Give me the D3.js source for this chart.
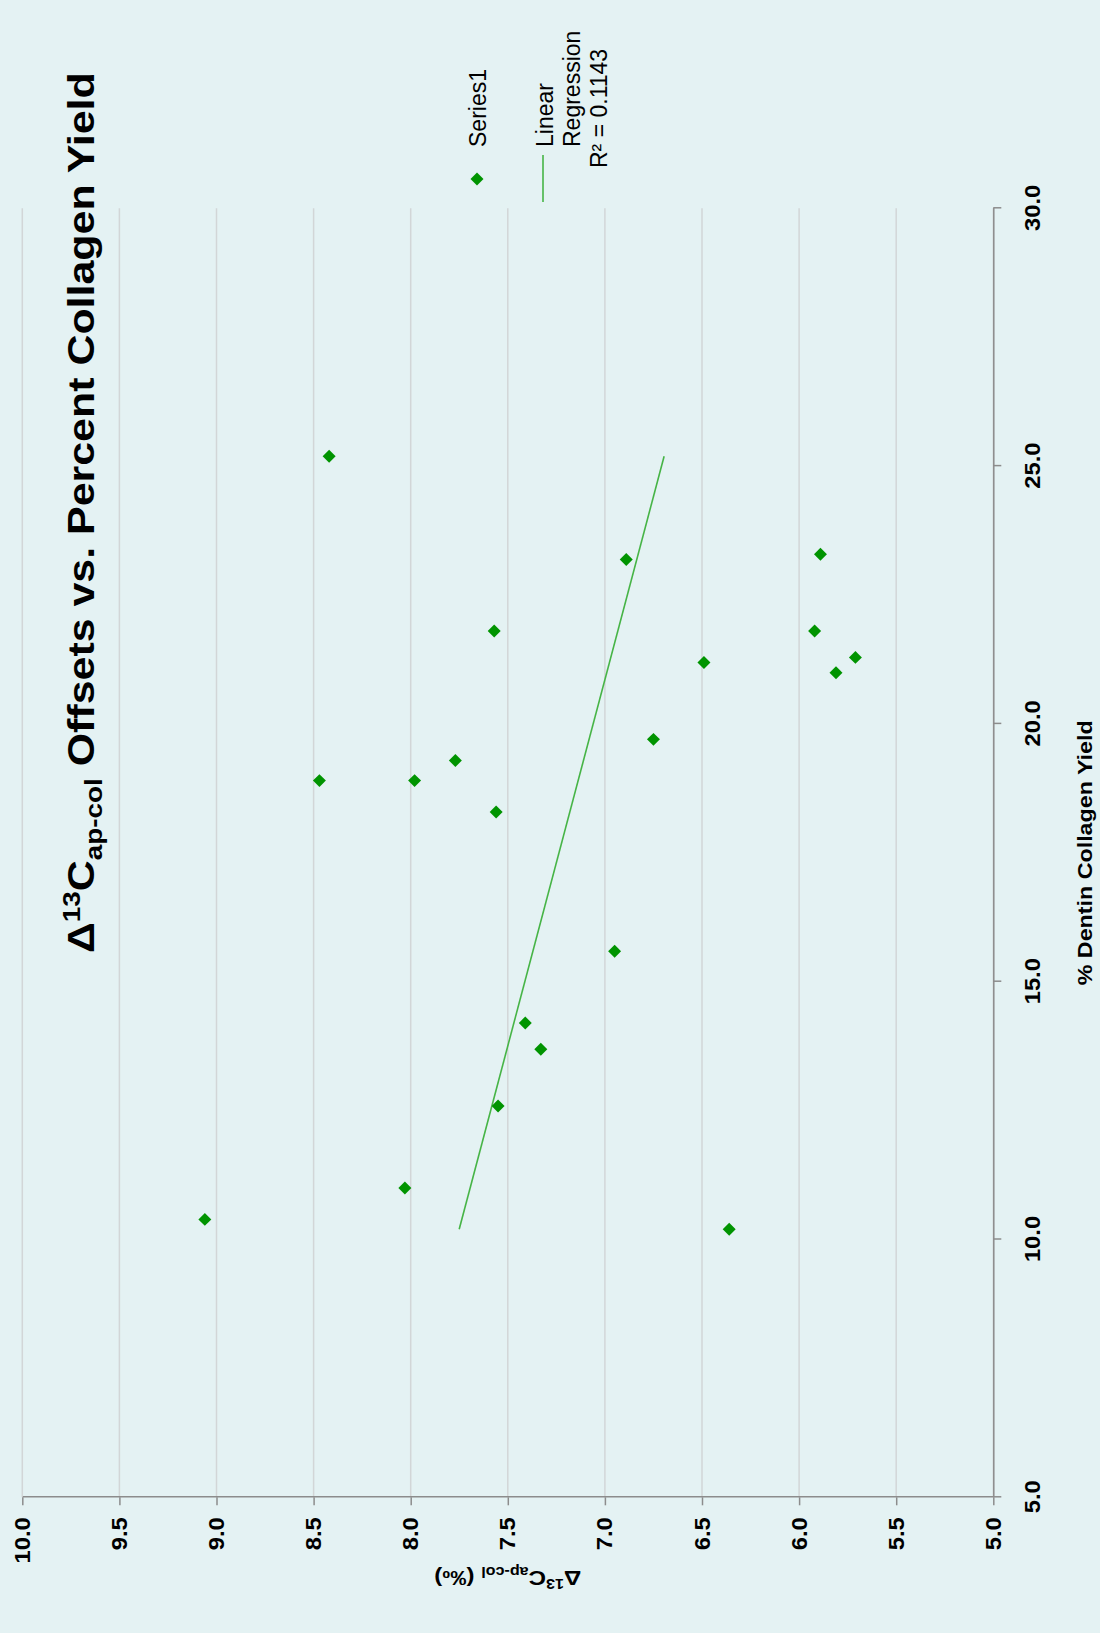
<!DOCTYPE html>
<html>
<head>
<meta charset="utf-8">
<script src="https://cdn.jsdelivr.net/npm/d3@7"></script>
<style>
  html, body { margin: 0; padding: 0; background: #e4f2f3; }
  svg { display: block; font-family: "Liberation Sans", Arial, Helvetica, sans-serif; }
</style>
</head>
<body>
<svg id="chart" width="1100" height="1633"></svg>
<script>
// % dentin collagen yield of each sample
const collagenYield = [25.19, 21.80, 19.29, 18.90, 18.90, 18.29, 23.19, 23.29, 21.80, 21.29,
                       20.99, 21.19, 19.70, 10.39, 11.00, 12.59, 14.20, 13.69, 15.59, 10.20];
// Δ13C apatite–collagen offset (‰) of the same samples
const offsets = [8.42, 7.57, 7.77, 8.47, 7.98, 7.56, 6.89, 5.89, 5.92, 5.71,
                 5.81, 6.49, 6.75, 9.06, 8.03, 7.55, 7.41, 7.33, 6.95, 6.36];
const xTicks = [5, 10, 15, 20, 25, 30];
const yTicks = [5, 5.5, 6, 6.5, 7, 7.5, 8, 8.5, 9, 9.5, 10];
const seriesName = "Series1";
const fitLabel = ["Linear", "Regression", "R² = 0.1143"];

const pts = collagenYield.map((x, i) => ({ x, y: offsets[i] }));

// least-squares fit of offset against yield
const mx = d3.mean(pts, d => d.x), my = d3.mean(pts, d => d.y);
const sxy = d3.sum(pts, d => (d.x - mx) * (d.y - my));
const sxx = d3.sum(pts, d => (d.x - mx) ** 2);
const slope = sxy / sxx, intercept = my - slope * mx;
const fitX = d3.extent(pts, d => d.x);

const PAGE_W = 1100, PAGE_H = 1633;
// The chart is laid out landscape (PAGE_H wide, PAGE_W tall) and turned a quarter turn.
const svg = d3.select("#chart");
svg.append("rect").attr("width", PAGE_W).attr("height", PAGE_H).attr("fill", "#e4f2f3");
const g = svg.append("g").attr("transform", `translate(0,${PAGE_H}) rotate(-90)`);

const plot = { left: 135.7, right: 1424.7, top: 22.3, bottom: 993.3 };
const x = d3.scaleLinear().domain([5, 30]).range([plot.left, plot.right]);
const y = d3.scaleLinear().domain([5, 10]).range([plot.bottom, plot.top]);

const AXIS = "#8c8c8c";

// horizontal gridlines
g.append("g").selectAll("line").data(yTicks).join("line")
  .attr("x1", plot.left).attr("x2", plot.right)
  .attr("y1", d => y(d)).attr("y2", d => y(d))
  .attr("stroke", "#d2d6d7").attr("stroke-width", 1.5);

function styleAxis(sel) {
  sel.attr("font-size", null).attr("font-family", null);
  sel.select(".domain").attr("stroke", AXIS).attr("stroke-width", 1.5);
  sel.selectAll(".tick line").attr("stroke", AXIS).attr("stroke-width", 1.5);
  sel.selectAll(".tick text").attr("fill", "#000").attr("font-size", 22).attr("font-weight", "bold");
}

const fmt = d3.format(".1f");
const gx = g.append("g").attr("transform", `translate(0,${plot.bottom})`)
  .call(d3.axisBottom(x).tickValues(xTicks).tickFormat(fmt).tickSize(8).tickSizeOuter(0).tickPadding(23))
  .call(styleAxis);
gx.selectAll(".tick text").attr("transform", "scale(1.08,1)");

const gy = g.append("g").attr("transform", `translate(${plot.left},0)`)
  .call(d3.axisLeft(y).tickValues(yTicks).tickFormat(fmt).tickSize(8).tickSizeOuter(0).tickPadding(12))
  .call(styleAxis);
gy.selectAll(".tick text").attr("transform", "translate(-20,0) scale(1.08,1) translate(20,0)");

// stretch a text element along its own baseline so it spans `len` pixels
function fitLength(sel, len, ax, ay) {
  const w = sel.node().getBBox().width;
  const k = len / w;
  sel.attr("transform", `translate(${ax},${ay}) scale(${k},1) translate(${-ax},${-ay})`);
}

// regression line
g.append("line")
  .attr("x1", x(fitX[0])).attr("y1", y(intercept + slope * fitX[0]))
  .attr("x2", x(fitX[1])).attr("y2", y(intercept + slope * fitX[1]))
  .attr("stroke", "#46b446").attr("stroke-width", 1.6);

// sample markers
const diamond = d3.symbol().type(d3.symbolSquare).size(84);
g.append("g").selectAll("path").data(pts).join("path")
  .attr("d", diamond)
  .attr("transform", d => `translate(${x(d.x)},${y(d.y)}) rotate(45)`)
  .attr("fill", "#009400");

// chart title
const title = g.append("text")
  .attr("x", 680).attr("y", 94)
  .attr("font-size", 37).attr("font-weight", "bold").attr("fill", "#000");
title.append("tspan").text("Δ");
title.append("tspan").attr("font-size", 24).attr("dy", -14).text("13");
title.append("tspan").attr("dy", 14).text("C");
title.append("tspan").attr("font-size", 24).attr("dy", 8).text("ap-col");
title.append("tspan").attr("dy", -8).text(" Offsets vs. Percent Collagen Yield");
fitLength(title, 881, 680, 94);

// x-axis title
const xt = g.append("text")
  .attr("x", (plot.left + plot.right) / 2).attr("y", 1092)
  .attr("text-anchor", "middle").attr("font-size", 21).attr("font-weight", "bold")
  .text("% Dentin Collagen Yield");
fitLength(xt, 265, (plot.left + plot.right) / 2, 1092);

// y-axis title
const ytWrap = g.append("g").attr("transform", `translate(62,${(plot.top + plot.bottom) / 2}) rotate(-90)`);
const yt = ytWrap.append("text").attr("text-anchor", "middle")
  .attr("font-size", 21).attr("font-weight", "bold");
yt.append("tspan").text("Δ");
yt.append("tspan").attr("font-size", 14).attr("dy", -8).text("13");
yt.append("tspan").attr("dy", 8).text("C");
yt.append("tspan").attr("font-size", 14).attr("dy", 4).text("ap-col");
yt.append("tspan").attr("dy", -4).text(" (‰)");
fitLength(yt, 147, 0, 0);

// legend
const leg = g.append("g").attr("font-size", 23).attr("fill", "#000");
leg.append("path").attr("d", diamond)
  .attr("transform", "translate(1454,477) rotate(45)").attr("fill", "#009400");
leg.append("text").attr("x", 1486).attr("y", 486).text(seriesName);
leg.append("line").attr("x1", 1431).attr("x2", 1478).attr("y1", 543).attr("y2", 543)
  .attr("stroke", "#46b446").attr("stroke-width", 1.6);
leg.selectAll("text.fit").data(fitLabel).join("text").attr("class", "fit")
  .attr("x", (d, i) => i < 2 ? 1486 : 1465).attr("y", (d, i) => 553 + i * 27).text(d => d);
</script>
</body>
</html>
